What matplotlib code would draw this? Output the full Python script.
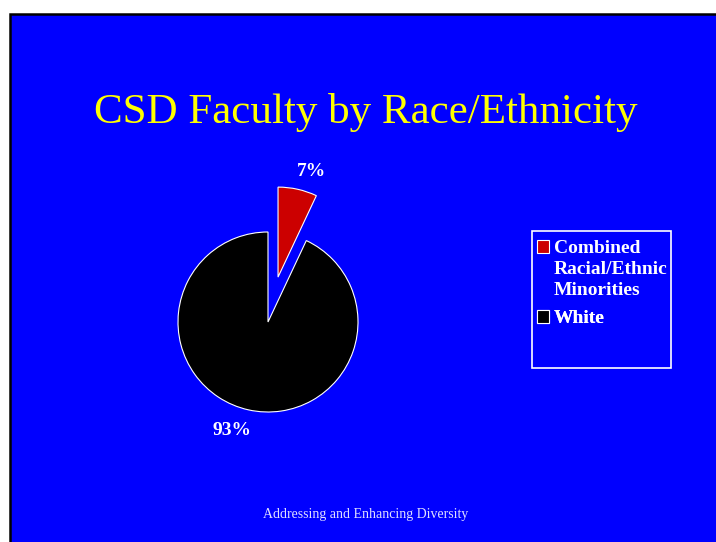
import textwrap
import matplotlib.pyplot as plt
from matplotlib.patches import Rectangle

title = "CSD Faculty by Race/Ethnicity"
footer = "Addressing and Enhancing Diversity"
groups = ["Combined Racial/Ethnic Minorities", "White"]
shares = [7, 93]
colors = ["#CC0000", "#000000"]

plt.rcParams['font.family'] = ['Liberation Serif', 'DejaVu Serif']

fig = plt.figure(figsize=(7.16, 5.42), dpi=100)
fig.patch.set_facecolor('white')
ax = fig.add_axes([0, 0, 1, 1])

# slide background
ax.add_patch(Rectangle((10, -5), 720, 533, facecolor='#0000FF',
                       edgecolor='black', linewidth=1.8, zorder=0))

wedges, texts, autotexts = ax.pie(
    shares, colors=colors, startangle=90, counterclock=False,
    explode=[46, 0], center=(268, 220), radius=90,
    wedgeprops=dict(edgecolor='white', linewidth=0.8),
    autopct=lambda p: f'{p:.0f}%', pctdistance=1.28,
    textprops=dict(color='white', fontsize=14, fontweight='bold'))
ax.set_xlim(0, 716)
ax.set_ylim(0, 542)
ax.set_aspect('equal')
ax.axis('off')

# nudge labels a bit to where they sit in the slide
x, y = autotexts[0].get_position()
autotexts[0].set_position((x + 8, y - 7))
x, y = autotexts[1].get_position()
autotexts[1].set_position((x - 11, y + 3.5))

ax.text(366, 419, title, ha='center', va='baseline', fontsize=31, color='#FFFF00')
ax.text(366, 24, footer, ha='center', va='baseline', fontsize=10, color='#E0E0FF')

# legend frame
ax.add_patch(Rectangle((532, 174), 139, 137, facecolor='none',
                       edgecolor='white', linewidth=1.2, zorder=3))

# one small legend per group so the gap between groups is a bit bigger
# than the line spacing inside a wrapped label
top = 240
pitch = 21.3
for w, g in zip(wedges, groups):
    lines = textwrap.wrap(g, 13)
    hs = [w] + [Rectangle((0, 0), 1, 1, fill=False, edgecolor='none')] * (len(lines) - 1)
    leg = ax.legend(hs, lines, loc='upper left', bbox_to_anchor=(537 / 716, 1 - top / 542),
                    bbox_transform=fig.transFigure, frameon=False, handlelength=0.62,
                    handleheight=0.62, handletextpad=0.26, labelspacing=0.2,
                    borderpad=0, borderaxespad=0, prop=dict(size=14, weight='bold'))
    for t in leg.get_texts():
        t.set_color('white')
    ax.add_artist(leg)
    top += pitch * len(lines) + 6

fig.savefig('out.png', dpi=100, facecolor='white')
